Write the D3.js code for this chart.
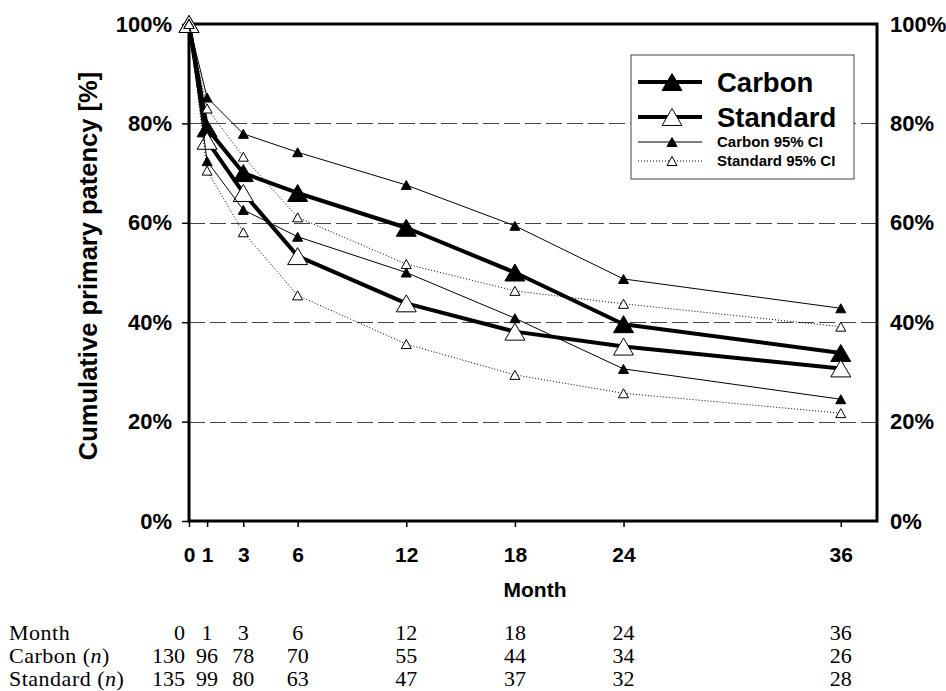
<!DOCTYPE html>
<html>
<head>
<meta charset="utf-8">
<script src="https://cdn.jsdelivr.net/npm/d3@7"></script>
<style>
  body { margin: 0; background: #fff; }
  svg { display: block; }
  .sans { font-family: "Liberation Sans", Arial, sans-serif; font-weight: bold; }
  .serif { font-family: "Liberation Serif", "Times New Roman", serif; }
</style>
</head>
<body>
<div id="container"></div>
<script>
// data
var months = [0, 1, 3, 6, 12, 18, 24, 36];
var carbon = [100, 79, 70, 66, 59, 50, 39.6, 33.8];
var standard = [100, 76.5, 66, 53.3, 43.8, 38.1, 35.1, 30.7];
var carbonHi = [100, 85.2, 77.9, 74.2, 67.6, 59.4, 48.7, 42.8];
var carbonLo = [100, 72.4, 62.6, 57.2, 50.0, 40.8, 30.6, 24.5];
var standardHi = [100, 83.0, 73.3, 61.1, 51.7, 46.3, 43.7, 39.1];
var standardLo = [100, 70.5, 58.1, 45.4, 35.6, 29.4, 25.7, 21.7];
var yTicks = [0, 20, 40, 60, 80, 100];
var carbonN = [130, 96, 78, 70, 55, 44, 34, 26];
var standardN = [135, 99, 80, 63, 47, 37, 32, 28];

var width = 946, height = 691;
var margin = { top: 24, right: 69, bottom: 170, left: 189 };

var svg = d3.select("#container").append("svg")
    .attr("width", width)
    .attr("height", height);

// scales
var x = d3.scaleLinear().domain([0, 38]).range([margin.left, width - margin.right]);
var y = d3.scaleLinear().domain([0, 100]).range([height - margin.bottom, margin.top]);

// triangle marker, centred on its box
function tri(w, h) {
    return "M0," + (-h / 2) + "L" + (w / 2) + "," + (h / 2) + "L" + (-w / 2) + "," + (h / 2) + "Z";
}

// dashed gridlines
svg.append("g")
    .selectAll("line")
    .data(yTicks.filter(function(d) { return d > 0 && d < 100; }))
    .enter().append("line")
        .attr("x1", x(0)).attr("x2", x(38))
        .attr("y1", function(d) { return Math.round(y(d)) + 0.5; })
        .attr("y2", function(d) { return Math.round(y(d)) + 0.5; })
        .attr("stroke", "#444")
        .attr("stroke-width", 1)
        .attr("stroke-dasharray", "16,5");

// axes
var xAxis = svg.append("g")
    .attr("class", "sans")
    .attr("transform", "translate(0," + y(0) + ")")
    .call(d3.axisBottom(x).tickValues(months).tickSize(6).tickPadding(20).tickFormat(d3.format("d")));

var yAxisL = svg.append("g")
    .attr("class", "sans")
    .attr("transform", "translate(" + x(0) + ",0)")
    .call(d3.axisLeft(y).tickValues(yTicks).tickSize(7).tickPadding(10).tickFormat(function(d) { return d + "%"; }));

var yAxisR = svg.append("g")
    .attr("class", "sans")
    .attr("transform", "translate(" + x(38) + ",0)")
    .call(d3.axisRight(y).tickValues(yTicks).tickSize(0).tickPadding(13).tickFormat(function(d) { return d + "%"; }));

[xAxis, yAxisL, yAxisR].forEach(function(g) {
    g.select(".domain").remove();
    g.selectAll("text").attr("font-size", 21).attr("font-family", null).attr("fill", "#000");
    g.selectAll(".tick line").attr("stroke", "#000").attr("stroke-width", 1.5);
});
yAxisL.selectAll("text").attr("font-size", 22);
yAxisR.selectAll("text").attr("font-size", 22);

// plot frame
svg.append("rect")
    .attr("x", x(0)).attr("y", y(100))
    .attr("width", x(38) - x(0))
    .attr("height", y(0) - y(100))
    .attr("fill", "none")
    .attr("stroke", "#000")
    .attr("stroke-width", 3);

// axis titles
svg.append("text")
    .attr("class", "sans")
    .attr("transform", "translate(97,266) rotate(-90)")
    .attr("text-anchor", "middle")
    .attr("font-size", 25.5)
    .text("Cumulative primary patency [%]");

svg.append("text")
    .attr("class", "sans")
    .attr("x", 535).attr("y", 597)
    .attr("text-anchor", "middle")
    .attr("font-size", 21)
    .text("Month");

// series
var series = [
    { name: "Carbon", values: carbon, width: 4, dash: null, w: 20, h: 17, fill: "#000" },
    { name: "Standard", values: standard, width: 4, dash: null, w: 20, h: 17, fill: "#fff" },
    { name: "Carbon 95% CI", values: carbonHi, width: 1, dash: null, w: 10, h: 9, fill: "#000" },
    { name: "Carbon 95% CI", values: carbonLo, width: 1, dash: null, w: 10, h: 9, fill: "#000" },
    { name: "Standard 95% CI", values: standardHi, width: 1, dash: "1,2", w: 10, h: 9, fill: "#fff" },
    { name: "Standard 95% CI", values: standardLo, width: 1, dash: "1,2", w: 10, h: 9, fill: "#fff" }
];

var line = d3.line()
    .x(function(d, i) { return x(months[i]); })
    .y(function(d) { return y(d); });

series.forEach(function(s) {
    var g = svg.append("g");
    g.append("path")
        .datum(s.values)
        .attr("d", line)
        .attr("fill", "none")
        .attr("stroke", "#000")
        .attr("stroke-width", s.width)
        .attr("stroke-dasharray", s.dash)
        .attr("stroke-linejoin", "round");
    g.selectAll("path.m")
        .data(s.values)
        .enter().append("path")
            .attr("class", "m")
            .attr("d", tri(s.w, s.h))
            .attr("transform", function(d, i) { return "translate(" + x(months[i]) + "," + y(d) + ")"; })
            .attr("fill", s.fill)
            .attr("stroke", "#000")
            .attr("stroke-width", 1);
});

// legend
var legend = svg.append("g").attr("transform", "translate(631,55)");
legend.append("rect")
    .attr("width", 223).attr("height", 124)
    .attr("fill", "#fff")
    .attr("stroke", "#444")
    .attr("stroke-width", 1);

var legendRows = [
    { s: series[0], y: 27, size: 27.5 },
    { s: series[1], y: 62, size: 27.5 },
    { s: series[2], y: 87, size: 15 },
    { s: series[4], y: 106, size: 15 }
];
legendRows.forEach(function(r) {
    var g = legend.append("g").attr("transform", "translate(0," + r.y + ")");
    g.append("line")
        .attr("x1", 7).attr("x2", 71)
        .attr("stroke", "#000")
        .attr("stroke-width", r.s.width)
        .attr("stroke-dasharray", r.s.dash);
    g.append("path")
        .attr("d", tri(r.s.w, r.s.h))
        .attr("transform", "translate(41,0)")
        .attr("fill", r.s.fill)
        .attr("stroke", "#000");
    g.append("text")
        .attr("class", "sans")
        .attr("x", 86)
        .attr("dy", "0.36em")
        .attr("font-size", r.size)
        .text(r.s.name);
});

// number-at-risk table
var table = svg.append("g").attr("class", "serif").attr("font-size", 22);
var rows = [
    { label: "Month", n: months, y: 640 },
    { label: "Carbon", n: carbonN, y: 663 },
    { label: "Standard", n: standardN, y: 686 }
];
rows.forEach(function(r) {
    var t = table.append("text").attr("x", 9).attr("y", r.y).attr("letter-spacing", 0.5);
    t.append("tspan").text(r.label);
    if (r.label !== "Month") {
        t.append("tspan").text(" (");
        t.append("tspan").attr("font-style", "italic").text("n");
        t.append("tspan").text(")");
    }
    table.selectAll(null)
        .data(r.n)
        .enter().append("text")
            .attr("y", r.y)
            .attr("x", function(d, i) { return i === 0 ? x(months[i]) - 4 : x(months[i]); })
            .attr("text-anchor", function(d, i) { return i === 0 ? "end" : "middle"; })
            .text(function(d) { return d; });
});
</script>
</body>
</html>
